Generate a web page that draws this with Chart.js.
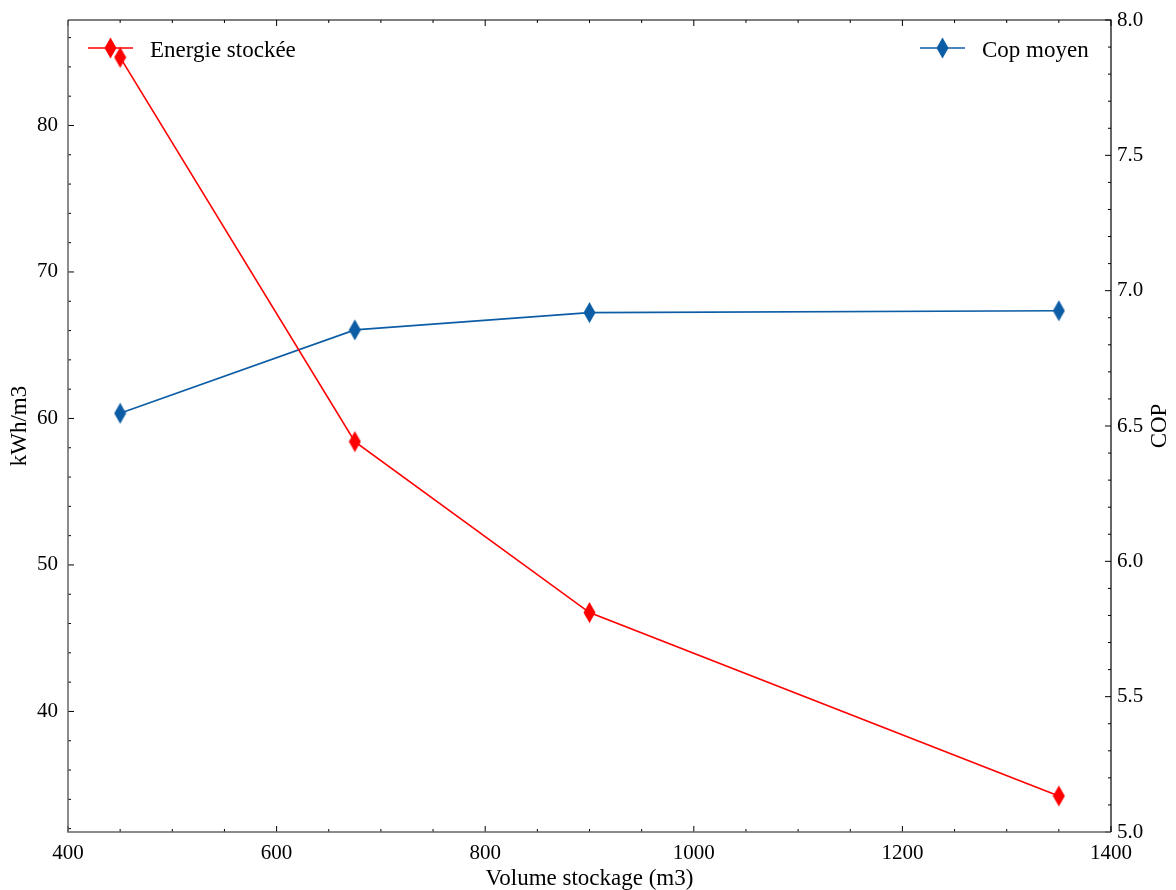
<!DOCTYPE html>
<html>
<head>
<meta charset="utf-8">
<script src="https://cdn.jsdelivr.net/npm/chart.js@4.4.1/dist/chart.umd.min.js"></script>
<style>
  body { margin: 0; background: #fff; }
  canvas { display: block; }
</style>
</head>
<body>
<canvas id="chart" width="1176" height="890"></canvas>
<script>
// data ----------------------
const volumes = [450, 675, 900, 1350];
const energie = [84.65, 58.42, 46.75, 34.23];
const copMoyen = [6.547, 6.855, 6.919, 6.926];

// ticks ---------------------
const xTicks = [400, 600, 800, 1000, 1200, 1400];
const yTicks = [40, 50, 60, 70, 80];
const copTicks = [5.0, 5.5, 6.0, 6.5, 7.0, 7.5, 8.0];

const RED = '#ff0000';
const BLUE = '#0c5da5';
const FAMILY = '"Liberation Serif", "DejaVu Serif", serif';
const TICK_FONT = { family: FAMILY, size: 21 };
const TEXT_FONT = { family: FAMILY, size: 23 };

// thin diamond marker
const diamond = color => {
  const c = document.createElement('canvas');
  c.width = 13;
  c.height = 22;
  const g = c.getContext('2d');
  g.fillStyle = color;
  g.beginPath();
  g.moveTo(6.5, 0.5);
  g.lineTo(12.5, 11);
  g.lineTo(6.5, 21.5);
  g.lineTo(0.5, 11);
  g.closePath();
  g.fill();
  return c;
};

const setTicks = list => scale => {
  scale.ticks = list.map(v => ({ value: v }));
};

const fixWidth = w => s => {
  s.width = w;
  s.paddingTop = 0;
  s.paddingBottom = 0;
};

// inward ticks, spines, legends
const framePlugin = {
  id: 'frame',
  afterDraw(chart) {
    const { ctx, chartArea: a, scales } = chart;
    const { x, y, y1 } = scales;
    ctx.save();
    ctx.strokeStyle = '#000';
    ctx.lineWidth = 1;
    ctx.beginPath();
    const minor = (scale, from, to, step) => {
      const out = [];
      for (let v = from; v <= to + 1e-9; v += step) out.push(scale.getPixelForValue(v));
      return out;
    };
    // x ticks (bottom + top)
    minor(x, 400, 1400, 50).forEach((px, i) => {
      const len = i % 4 === 0 ? 6 : 3;
      ctx.moveTo(px, a.bottom);
      ctx.lineTo(px, a.bottom - len);
      ctx.moveTo(px, a.top);
      ctx.lineTo(px, a.top + len);
    });
    // left ticks
    minor(y, 32, 86, 2).forEach((py, i) => {
      const len = (32 + i * 2) % 10 === 0 ? 6 : 3;
      ctx.moveTo(a.left, py);
      ctx.lineTo(a.left + len, py);
    });
    // right ticks
    minor(y1, 5.0, 8.0, 0.1).forEach((py, i) => {
      const len = i % 5 === 0 ? 6 : 3;
      ctx.moveTo(a.right, py);
      ctx.lineTo(a.right - len, py);
    });
    ctx.stroke();

    // spines
    ctx.lineWidth = 1.5;
    ctx.strokeStyle = '#666';
    ctx.beginPath();
    ctx.moveTo(a.left, a.top);
    ctx.lineTo(a.left, a.bottom);
    ctx.lineTo(a.right, a.bottom);
    ctx.stroke();
    ctx.lineWidth = 1.2;
    ctx.strokeStyle = '#000';
    ctx.beginPath();
    ctx.moveTo(a.left, a.top);
    ctx.lineTo(a.right, a.top);
    ctx.lineTo(a.right, a.bottom);
    ctx.stroke();

    // legends
    const legend = (x0, label, color, img) => {
      ctx.strokeStyle = color;
      ctx.lineWidth = 1.6;
      ctx.beginPath();
      ctx.moveTo(x0, 48);
      ctx.lineTo(x0 + 45, 48);
      ctx.stroke();
      ctx.drawImage(img, x0 + 22.5 - img.width / 2, 48 - img.height / 2);
      ctx.fillStyle = '#000';
      ctx.font = `${TEXT_FONT.size}px ${FAMILY}`;
      ctx.textBaseline = 'middle';
      ctx.textAlign = 'left';
      ctx.fillText(label, x0 + 62, 51);
    };
    legend(88, 'Energie stockée', RED, chart.data.datasets[0].pointStyle);
    legend(920, 'Cop moyen', BLUE, chart.data.datasets[1].pointStyle);

    // right axis title, bottom to top
    ctx.translate(1160, (a.top + a.bottom) / 2);
    ctx.rotate(-Math.PI / 2);
    ctx.textAlign = 'center';
    ctx.textBaseline = 'middle';
    ctx.fillText('COP', 0, 0);
    ctx.restore();
  },
};

const axisBase = {
  grid: { display: false, drawTicks: false },
  border: { display: false },
};

new Chart(document.getElementById('chart'), {
  type: 'line',
  data: {
    datasets: [
      {
        label: 'Energie stockée',
        data: volumes.map((v, i) => ({ x: v, y: energie[i] })),
        yAxisID: 'y',
        borderColor: RED,
        backgroundColor: RED,
        borderWidth: 1.6,
        pointStyle: diamond(RED),
        pointRadius: 6,
        tension: 0,
      },
      {
        label: 'Cop moyen',
        data: volumes.map((v, i) => ({ x: v, y: copMoyen[i] })),
        yAxisID: 'y1',
        borderColor: BLUE,
        backgroundColor: BLUE,
        borderWidth: 1.6,
        pointStyle: diamond(BLUE),
        pointRadius: 6,
        tension: 0,
      },
    ],
  },
  options: {
    responsive: false,
    animation: false,
    layout: { padding: { top: 20, left: 0, right: 0, bottom: 0 } },
    plugins: { legend: { display: false }, tooltip: { enabled: false } },
    scales: {
      x: {
        ...axisBase,
        type: 'linear',
        position: 'bottom',
        min: 400,
        max: 1400,
        afterBuildTicks: setTicks(xTicks),
        afterFit: s => { s.height = 58; s.paddingLeft = 0; s.paddingRight = 0; },
        ticks: { font: TICK_FONT, color: '#000', padding: 9, maxRotation: 0, callback: v => String(v) },
        title: { display: true, text: 'Volume stockage (m3)', font: TEXT_FONT, color: '#000', padding: { top: 0, bottom: -3 } },
      },
      y: {
        ...axisBase,
        position: 'left',
        min: 31.77,
        max: 87.2,
        afterBuildTicks: setTicks(yTicks),
        afterFit: fixWidth(68),
        ticks: { font: TICK_FONT, color: '#000', padding: 10 },
        title: { display: true, text: 'kWh/m3', font: TEXT_FONT, color: '#000', padding: { top: 6, bottom: 0 } },
      },
      y1: {
        ...axisBase,
        position: 'right',
        min: 5.0,
        max: 8.0,
        afterBuildTicks: setTicks(copTicks),
        afterFit: fixWidth(65),
        ticks: { font: TICK_FONT, color: '#000', padding: 6, callback: v => v.toFixed(1) },
        title: { display: false },
      },
    },
  },
  plugins: [framePlugin],
});
</script>
</body>
</html>
